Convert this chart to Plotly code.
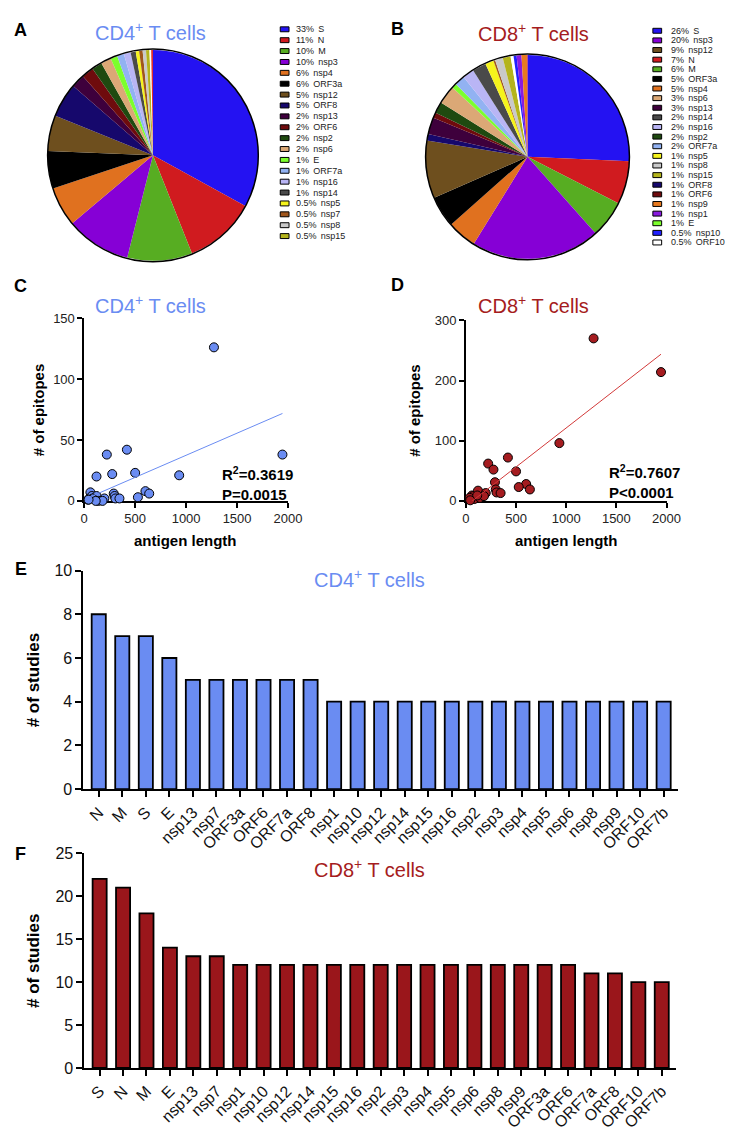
import numpy as np
import plotly.graph_objects as go

W, H = 733, 1129

# antigens in the order the pie slices are drawn (clockwise from 12 o'clock)
antigens = ["S", "N", "M", "nsp3", "nsp4", "ORF3a", "nsp12", "ORF8", "nsp13", "ORF6",
            "nsp2", "nsp6", "E", "ORF7a", "nsp16", "nsp14", "nsp5", "nsp7", "nsp8", "nsp15",
            "ORF10", "nsp10", "nsp1", "nsp9", "ORF7b"]
antigen_length = [1273, 419, 222, 1945, 500, 275, 932, 121, 601, 61,
                  638, 290, 75, 121, 298, 527, 306, 83, 198, 346,
                  38, 139, 180, 113, 43]
cd4_epitopes = [126, 42, 38, 38, 23, 22, 21, 20, 8, 7,
                6, 6, 4, 4, 4, 3, 2, 2, 2, 2,
                1, 0, 0, 0, 1]
cd8_epitopes = [270, 72, 62, 214, 49, 52, 96, 11, 28, 9,
                19, 31, 8, 17, 19, 23, 14, 3, 13, 13,
                5, 5, 8, 9, 1]
antigen_colors = ["#2412f2", "#d01b1f", "#57ad22", "#8600d6", "#e0711f", "#000000",
                  "#6e4f1e", "#16086c", "#3e003c", "#6f0b0d", "#1f4a10", "#dba876",
                  "#7cff2c", "#92b2f2", "#b9b5f5", "#4a4a4a", "#f6f41c", "#a0561c",
                  "#c9c9c9", "#b4b41c", "#ffffff", "#2020ff", "#8a1ae0", "#e87a20",
                  "#e02020"]

# legends (as printed next to the pies)
legend_cd4_names = ["S", "N", "M", "nsp3", "nsp4", "ORF3a", "nsp12", "ORF8", "nsp13", "ORF6",
                    "nsp2", "nsp6", "E", "ORF7a", "nsp16", "nsp14", "nsp5", "nsp7", "nsp8", "nsp15"]
legend_cd4_pct = ["33%", "11%", "10%", "10%", "6%", "6%", "5%", "5%", "2%", "2%",
                  "2%", "2%", "1%", "1%", "1%", "1%", "0.5%", "0.5%", "0.5%", "0.5%"]
legend_cd8_names = ["S", "nsp3", "nsp12", "N", "M", "ORF3a", "nsp4", "nsp6", "nsp13", "nsp14",
                    "nsp16", "nsp2", "ORF7a", "nsp5", "nsp8", "nsp15", "ORF8", "ORF6", "nsp9",
                    "nsp1", "E", "nsp10", "ORF10"]
legend_cd8_pct = ["26%", "20%", "9%", "7%", "6%", "5%", "5%", "3%", "3%", "2%",
                  "2%", "2%", "2%", "1%", "1%", "1%", "1%", "1%", "1%",
                  "1%", "1%", "0.5%", "0.5%"]

# number of studies per antigen
cd4_study_antigens = ["N", "M", "S", "E", "nsp13", "nsp7", "ORF3a", "ORF6", "ORF7a", "ORF8",
                      "nsp1", "nsp10", "nsp12", "nsp14", "nsp15", "nsp16", "nsp2", "nsp3",
                      "nsp4", "nsp5", "nsp6", "nsp8", "nsp9", "ORF10", "ORF7b"]
cd4_studies = [8, 7, 7, 6, 5, 5, 5, 5, 5, 5, 4, 4, 4, 4, 4, 4, 4, 4, 4, 4, 4, 4, 4, 4, 4]
cd8_study_antigens = ["S", "N", "M", "E", "nsp13", "nsp7", "nsp1", "nsp10", "nsp12", "nsp14",
                      "nsp15", "nsp16", "nsp2", "nsp3", "nsp4", "nsp5", "nsp6", "nsp8", "nsp9",
                      "ORF3a", "ORF6", "ORF7a", "ORF8", "ORF10", "ORF7b"]
cd8_studies = [22, 21, 18, 14, 13, 13, 12, 12, 12, 12, 12, 12, 12, 12, 12, 12, 12, 12, 12,
               12, 12, 11, 11, 10, 10]

BLUE = "#6a8cf2"
RED = "#a51c20"
FONT = "Liberation Sans, Arial, sans-serif"


def fx(px):
    return px / W


def fy(py):
    return 1 - py / H


color_of = dict(zip(antigens, antigen_colors))
fig = go.Figure()
shapes = []
annotations = []

# ---- pies A / B ----
pies = [
    (cd4_epitopes, (144.5, 141.5, 108)),
    (cd8_epitopes, (528.5, 143, 104.5)),
]
for vals, (cx, cy, r) in pies:
    fig.add_trace(go.Pie(
        labels=antigens, values=vals, sort=False, direction="clockwise",
        marker=dict(colors=antigen_colors, line=dict(width=0)),
        textinfo="none", showlegend=False, hoverinfo="label+value+percent",
        domain=dict(x=[fx(cx - r), fx(cx + r)], y=[fy(cy + r), fy(cy - r)]),
    ))
    shapes.append(dict(type="circle", xref="paper", yref="paper",
                       x0=fx(cx - r), x1=fx(cx + r), y0=fy(cy + r), y1=fy(cy - r),
                       line=dict(color="black", width=1.5)))

# manual legends (swatch + "pct  name")
legends = [
    (legend_cd4_names, legend_cd4_pct, 275, 289, 13.5, 11.05),
    (legend_cd8_names, legend_cd8_pct, 657, 674, 15.0, 9.77),
]
for names, pcts, sx, tx, y0, dy in legends:
    for i, (nm, pc) in enumerate(zip(names, pcts)):
        yy = y0 + i * dy
        shapes.append(dict(type="rect", xref="paper", yref="paper",
                           x0=fx(sx), x1=fx(sx + 9), y0=fy(yy + 2.5), y1=fy(yy - 2.5),
                           fillcolor=color_of[nm], line=dict(color="black", width=1)))
        annotations.append(dict(x=fx(tx), y=fy(yy), xref="paper", yref="paper",
                                xanchor="left", yanchor="middle", showarrow=False,
                                text=pc + "\u00a0\u2009" + nm,
                                font=dict(family=FONT, size=9, color="#222")))

# ---- scatter C / D ----
axis_common = dict(showgrid=False, zeroline=False, showline=True, linecolor="black",
                   linewidth=1.5, ticks="outside", ticklen=5, tickwidth=1.5,
                   tickcolor="black", tickfont=dict(family=FONT, size=13, color="#222"),
                   layer="below traces")
scatters = [
    ("x", "y", cd4_epitopes, BLUE, "#6a8cf2", [74, 283], [306.7, 492.3], 2000, 150, 50),
    ("x2", "y2", cd8_epitopes, RED, "#d23a3a", [465.3, 671], [309, 492.3], 2000, 300, 100),
]
layout_axes = {}
for k, (xa, ya, yv, col, lcol, xd, yd, xmax, ymax, ydt) in enumerate(scatters):
    fig.add_trace(go.Scatter(
        x=antigen_length, y=yv, mode="markers", xaxis=xa, yaxis=ya, cliponaxis=False,
        text=antigens, showlegend=False,
        marker=dict(size=9, color=col, line=dict(color="black", width=1)),
    ))
    slope, icpt = np.polyfit(antigen_length, yv, 1)
    xl = [min(antigen_length), max(antigen_length)]
    fig.add_trace(go.Scatter(
        x=xl, y=[slope * v + icpt for v in xl], mode="lines", xaxis=xa, yaxis=ya,
        line=dict(color=lcol, width=1), showlegend=False, hoverinfo="skip",
    ))
    sfx = "" if k == 0 else "2"
    layout_axes["xaxis" + sfx] = dict(axis_common, domain=[fx(xd[0]), fx(xd[1])],
                                      range=[0, xmax], dtick=500, anchor=ya)
    layout_axes["yaxis" + sfx] = dict(axis_common, domain=[fy(yd[1]), fy(yd[0])],
                                      range=[0, ymax], dtick=ydt, anchor=xa)

# ---- bars E / F ----
bar_axis = dict(showgrid=False, zeroline=False, showline=True, linecolor="black",
                linewidth=1.5, ticks="outside", ticklen=6, tickwidth=1.5, tickcolor="black",
                layer="below traces")
bars = [
    ("x3", "y3", cd4_study_antigens, cd4_studies, BLUE, [73, 683], [563, 785], 10, 2),
    ("x4", "y4", cd8_study_antigens, cd8_studies, "#9a161b", [74, 681], [850, 1068], 25, 5),
]
for k, (xa, ya, cats, vals, col, xd, yd, ymax, ydt) in enumerate(bars):
    fig.add_trace(go.Bar(
        x=cats, y=vals, xaxis=xa, yaxis=ya, width=0.6, showlegend=False,
        marker=dict(color=col, line=dict(color="black", width=1.8)),
    ))
    sfx = str(k + 3)
    layout_axes["xaxis" + sfx] = dict(bar_axis, domain=[fx(xd[0]), fx(xd[1])],
                                      range=[-0.66, 24.62], tickangle=-45, anchor=ya,
                                      type="category",
                                      tickfont=dict(family=FONT, size=16, color="#111"))
    layout_axes["yaxis" + sfx] = dict(bar_axis, domain=[fy(yd[1]), fy(yd[0])],
                                      range=[0, ymax], dtick=ydt, anchor=xa,
                                      tickfont=dict(family=FONT, size=16, color="#111"))

# ---- titles and labels ----
def note(px, py, text, size, color="black", bold=False, angle=0, xa="center"):
    annotations.append(dict(x=fx(px), y=fy(py), xref="paper", yref="paper",
                            xanchor=xa, yanchor="middle", showarrow=False, textangle=angle,
                            text=("<b>%s</b>" % text) if bold else text,
                            font=dict(family=FONT, size=size, color=color)))


cd4_t = "CD4<sup>+</sup> T cells"
cd8_t = "CD8<sup>+</sup> T cells"
note(142, 16, cd4_t, 20, BLUE)
note(535, 17, cd8_t, 20, RED)
note(142, 293, cd4_t, 20, BLUE)
note(535, 293, cd8_t, 20, RED)
note(367, 571, cd4_t, 20, BLUE)
note(366, 866, cd8_t, 20, RED)

for lab, px, py in [("A", 9, 14), ("B", 395, 13), ("C", 9, 274), ("D", 395, 273),
                    ("E", 9, 561), ("F", 9, 851)]:
    note(px, py, lab, 18, bold=True)

note(28, 400, "# of epitopes", 15, bold=True, angle=-90)
note(413, 400, "# of epitopes", 15, bold=True, angle=-90)
note(178, 533, "antigen length", 15, bold=True)
note(568, 533, "antigen length", 15, bold=True)
note(22, 674, "# of studies", 17, bold=True, angle=-90)
note(22, 959, "# of studies", 17, bold=True, angle=-90)

annotations.append(dict(x=fx(213), y=fy(475), xref="paper", yref="paper", xanchor="left",
                        yanchor="middle", showarrow=False, align="left",
                        text="<b>R<sup>2</sup>=0.3619<br>P=0.0015</b>",
                        font=dict(family=FONT, size=15, color="black")))
annotations.append(dict(x=fx(610), y=fy(473), xref="paper", yref="paper", xanchor="left",
                        yanchor="middle", showarrow=False, align="left",
                        text="<b>R<sup>2</sup>=0.7607<br>P<0.0001</b>",
                        font=dict(family=FONT, size=15, color="black")))

fig.update_layout(
    width=W, height=H, margin=dict(l=0, r=0, t=0, b=0),
    paper_bgcolor="white", plot_bgcolor="white",
    font=dict(family=FONT), shapes=shapes, annotations=annotations,
    **layout_axes,
)

fig.write_html("out.html")
